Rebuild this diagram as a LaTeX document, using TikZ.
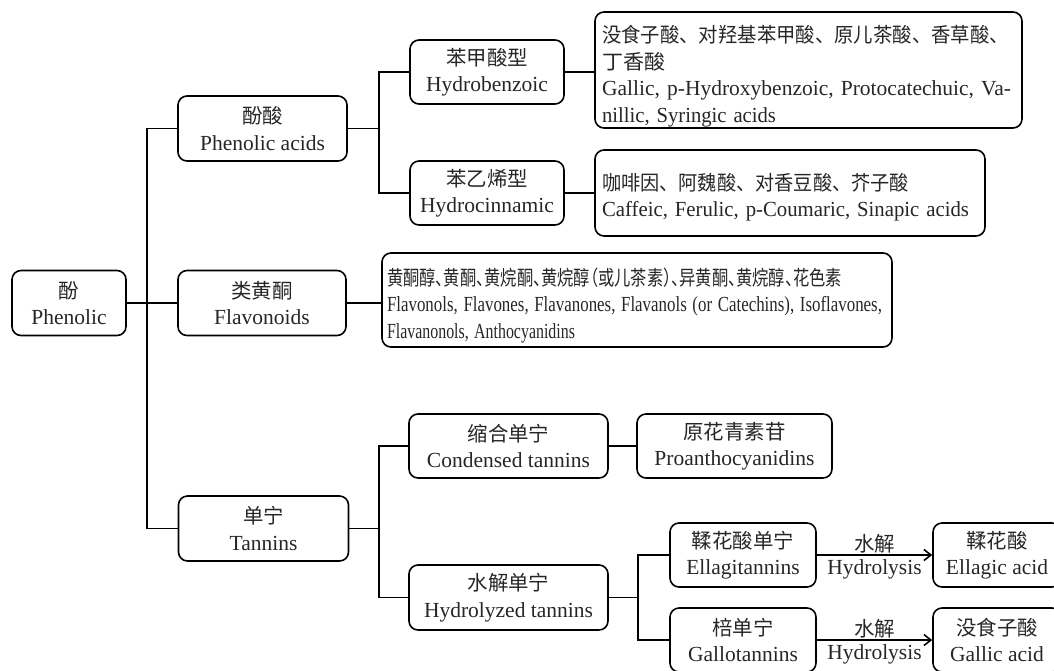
\documentclass[tikz,border=0pt]{standalone}
\usepackage{graphicx}
\usepackage{fontspec}
\setmainfont{Liberation Serif}
\newfontfamily\cjk[Scale=0.95]{Noto Sans CJK SC}
\newfontfamily\cjkh[Scale=0.95,RawFeature=+halt]{Noto Sans CJK SC}
\usetikzlibrary{arrows.meta}
\newcommand{\fitline}[2]{\resizebox{#1}{\height}{#2}}
\begin{document}
\begin{tikzpicture}[x=1pt,y=-1pt,
  box/.style={draw=black, line width=1.6pt, rounded corners=9pt, align=center,
    inner sep=0pt, font=\fontsize{21.5}{26.5}\selectfont, text=black!85},
  detail/.style={box, align=left, inner xsep=7pt},
  conn/.style={draw=black, line width=1.6pt},
  harrow/.style={conn, -{Straight Barb[length=7pt,width=11pt,line width=1.6pt]}},
  lab/.style={font=\fontsize{21.5}{26.5}\selectfont, text=black!85, inner sep=2pt}]
\useasboundingbox (0,0) rectangle (1054,670);
% level 0
\node[box, minimum width=114pt, minimum height=65pt] (phen) at (69,303) {{\cjk 酚}\\Phenolic};
% level 1
\node[box, minimum width=169pt, minimum height=65pt] (pa) at (262.5,128.5) {{\cjk 酚酸}\\Phenolic acids};
\node[box, minimum width=168pt, minimum height=65pt] (fla) at (262,303) {{\cjk 类黄酮}\\Flavonoids};
\node[box, minimum width=170pt, minimum height=65pt] (tan) at (263.5,528.5) {{\cjk 单宁}\\Tannins};
% phenolic acids branch
\node[box, minimum width=154pt, minimum height=64pt] (hb) at (487,72) {{\cjk 苯甲酸型}\\Hydrobenzoic};
\node[box, minimum width=154pt, minimum height=64pt] (hc) at (487,193) {{\cjk 苯乙烯型}\\Hydrocinnamic};
\node[detail, minimum width=427pt, minimum height=116pt, text width=413pt] (hbd) at (808.5,70)
  {\rule{0pt}{30pt}\fitline{407pt}{\cjk 没食子酸、对羟基苯甲酸、原儿茶酸、香草酸、}\\
   \fitline{63pt}{\cjk 丁香酸}\\
   \fitline{409pt}{Gallic, p-Hydroxybenzoic, Protocatechuic, Va-}\\
   \fitline{174pt}{nillic, Syringic acids}};
\node[detail, minimum width=390pt, minimum height=86pt, text width=376pt] (hcd) at (790,193)
  {\rule{0pt}{26pt}\fitline{307pt}{\cjk 咖啡因、阿魏酸、对香豆酸、芥子酸}\\
   \fitline{367pt}{Caffeic, Ferulic, p-Coumaric, Sinapic acids}};
% flavonoids detail
\node[detail, minimum width=510pt, minimum height=94pt, text width=500pt, inner xsep=5pt] (flad) at (637,300)
  {\rule{0pt}{28pt}\fitline{455pt}{\cjkh 黄酮醇、黄酮、黄烷酮、黄烷醇（或儿茶素）、异黄酮、黄烷醇、花色素}\\
   \fitline{495pt}{Flavonols,\ Flavones,\ Flavanones,\ Flavanols\ (or\ Catechins),\ Isoflavones,}\\
   \fitline{188pt}{Flavanonols, Anthocyanidins}};
% tannins branch
\node[box, minimum width=199pt, minimum height=64pt] (cond) at (508.5,446) {{\cjk 缩合单宁}\\Condensed tannins};
\node[box, minimum width=199pt, minimum height=65pt] (hyd) at (508.5,597.5) {{\cjk 水解单宁}\\Hydrolyzed tannins};
\node[box, minimum width=195pt, minimum height=64pt] (proan) at (734.5,446) {{\cjk 原花青素苷}\\Proanthocyanidins};
\node[box, minimum width=146pt, minimum height=64pt] (ellt) at (743,555) {{\cjk 鞣花酸单宁}\\Ellagitannins};
\node[box, minimum width=146pt, minimum height=64pt] (gallt) at (743,640) {{\cjk 棓单宁}\\Gallotannins};
\node[box, minimum width=128pt, minimum height=64pt] (ella) at (997,555) {{\cjk 鞣花酸}\\Ellagic acid};
\node[box, minimum width=128pt, minimum height=64pt] (galla) at (997,640) {{\cjk 没食子酸}\\Gallic acid};
% junctions
\coordinate (j1) at (147,303);
\coordinate (j2) at (379,128.5);
\coordinate (j3) at (379,528.5);
\coordinate (j4) at (638,597.5);
% connectors
\draw[conn] (phen.east) -- (fla.west);
\draw[conn] (pa.west) -| (j1) |- (tan.west);
\draw[conn] (pa.east) -- (j2);
\draw[conn] (hb.west) -| (j2) |- (hc.west);
\draw[conn] (hb.east) -- (hb.east -| hbd.west);
\draw[conn] (hc.east) -- (hc.east -| hcd.west);
\draw[conn] (fla.east) -- (fla.east -| flad.west);
\draw[conn] (tan.east) -- (j3);
\draw[conn] (cond.west) -| (j3) |- (hyd.west);
\draw[conn] (cond.east) -- (proan.west);
\draw[conn] (hyd.east) -- (j4);
\draw[conn] (ellt.west) -| (j4) |- (gallt.west);
\draw[harrow] (ellt.east) -- (ella.west)
  node[lab, midway, above, yshift=-1pt] (h1) {\cjk 水解}
  node[lab, midway, below, yshift=-2pt] (h2) {Hydrolysis};
\draw[harrow] (gallt.east) -- (galla.west)
  node[lab, midway, above, yshift=-1pt] (h3) {\cjk 水解}
  node[lab, midway, below, yshift=-2pt] (h4) {Hydrolysis};
\end{tikzpicture}
\end{document}
